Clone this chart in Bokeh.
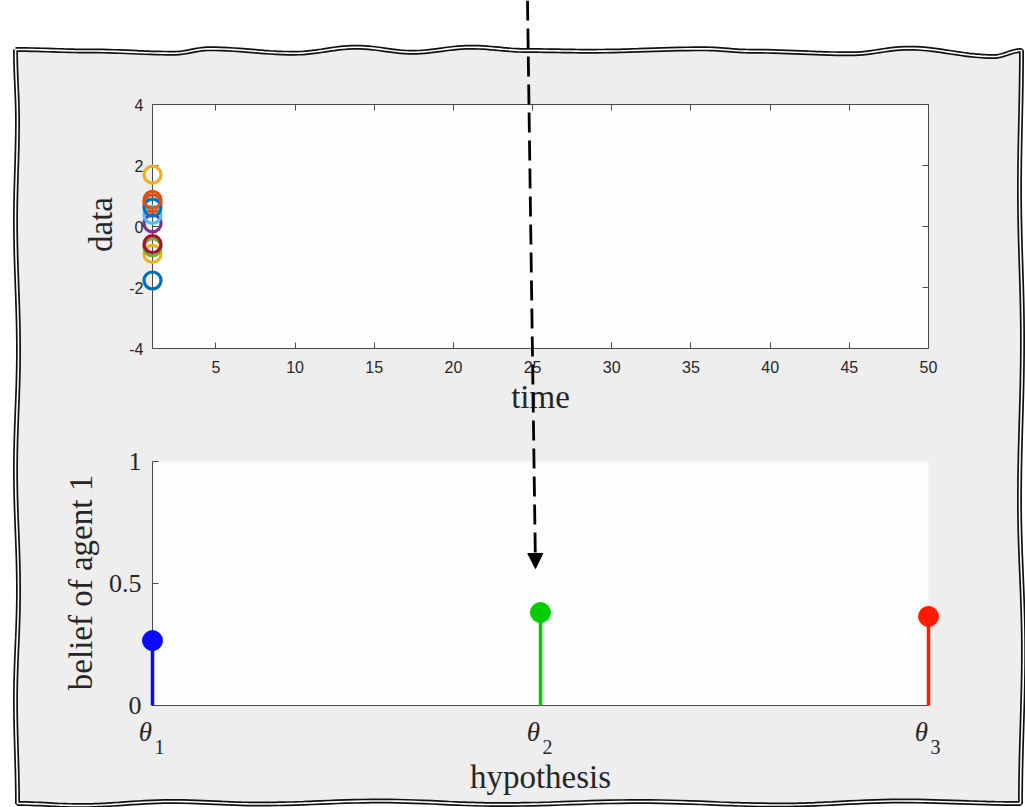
import math
from bokeh.plotting import figure
from bokeh.models import Range1d, LinearAxis, FixedTicker, Arrow, NormalHead
from bokeh.core.properties import value
from bokeh.embed import file_html
from bokeh.resources import INLINE

# ---------------- data ----------------
agent_time = [1, 1, 1, 1, 1, 1, 1, 1, 1, 1]
agent_data = [-1.77, 0.76, -0.90, 0.10, -0.68, 0.38, -0.58, 0.62, 0.87, 1.70]
agent_colors = ["#0072BD", "#D95319", "#EDB120", "#7E2F8E", "#77AC30",
                "#4DBEEE", "#A2142F", "#0072BD", "#D95319", "#EDB120"]
time_ticks = [5, 10, 15, 20, 25, 30, 35, 40, 45, 50]
time_tick_labels = ["5", "10", "15", "20", "25", "30", "35", "40", "45", "50"]
data_ticks = [-4, -2, 0, 2, 4]
data_tick_labels = ["-4", "-2", "0", "2", "4"]

hypotheses = [1, 2, 3]
hyp_symbol = ["θ", "θ", "θ"]
hyp_subscript = ["1", "2", "3"]
belief = [0.266, 0.381, 0.365]
hyp_colors = ["#0a0aff", "#00cc00", "#ff1a00"]
belief_ticks = [0, 0.5, 1]
belief_tick_labels = ["0", "0.5", "1"]

# ---------------- layout constants (pixels) ----------------
W, H = 1025, 807
FX0, FX1 = 152, 928
T1_TOP, T1_BOT = 104, 348
T2_TOP, T2_BOT = 461, 705

GRAY = "#eeeeee"
AX = "#4a4a4a"
TXT = "#262626"
SERIF = "Liberation Serif"
SANS = "Liberation Sans"


def horiz(points, n=14):
    out = []
    for (x0, y0), (x1, y1) in zip(points[:-1], points[1:]):
        for k in range(n):
            t = k / n
            s = (1 - math.cos(math.pi * t)) / 2
            out.append((x0 + (x1 - x0) * t, y0 + (y1 - y0) * s))
    return out


def vert(points, n=14):
    out = []
    for (x0, y0), (x1, y1) in zip(points[:-1], points[1:]):
        for k in range(n):
            t = k / n
            s = (1 - math.cos(math.pi * t)) / 2
            out.append((x0 + (x1 - x0) * s, y0 + (y1 - y0) * t))
    return out


top_edge = [(15, 49), (90, 50.5), (173, 52.7), (209, 48.3), (294, 52.7), (356, 46.7), (412, 51.7),
            (470, 46.7), (527, 50), (588, 50.7), (703, 48.3), (752, 50.7), (850, 53.3), (908, 47.7),
            (993, 56), (1021, 50)]
right_edge = [(1021, 50), (1019, 190), (1022, 340), (1019, 500), (1023, 650), (1020, 803)]
bottom_edge = [(1020, 803), (900, 800.5), (780, 804.5), (640, 801), (500, 804), (380, 800.5),
               (260, 803.5), (170, 801), (80, 805), (17, 803)]
left_edge = [(17, 803), (15, 700), (18, 590), (15, 470), (18, 350), (15, 220), (17, 120), (15, 49)]
border = horiz(top_edge) + vert(right_edge) + horiz(bottom_edge) + vert(left_edge)
border.append(border[0])
bx = [x for x, _ in border]
by = [y for _, y in border]

# ---------------- figure: frame = whole canvas, default ranges = pixels ----------------
p = figure(width=W, height=H, x_range=Range1d(0, W), y_range=Range1d(H, 0),
           x_axis_type=None, y_axis_type=None,
           min_border_left=0, min_border_right=0, min_border_top=0, min_border_bottom=0,
           output_backend="svg", toolbar_location=None)
p.border_fill_color = None
p.background_fill_color = None
p.outline_line_color = None

# data ranges of the two panels, mapped onto their pixel boxes
t_lo, t_hi, d_lo, d_hi = 1, 50, -4, 4
h_lo, h_hi, b_lo, b_hi = 1, 3, 0, 1
ux1 = (t_hi - t_lo) / (FX1 - FX0)
uy1 = (d_hi - d_lo) / (T1_BOT - T1_TOP)
ux2 = (h_hi - h_lo) / (FX1 - FX0)
uy2 = (b_hi - b_lo) / (T2_BOT - T2_TOP)
p.extra_x_ranges = {
    "t": Range1d(t_lo - FX0 * ux1, t_hi + (W - FX1) * ux1),
    "h": Range1d(h_lo - FX0 * ux2, h_hi + (W - FX1) * ux2),
}
p.extra_y_ranges = {
    "d": Range1d(d_lo - (H - T1_BOT) * uy1, d_hi + T1_TOP * uy1),
    "b": Range1d(b_lo - (H - T2_BOT) * uy2, b_hi + T2_TOP * uy2),
}

# background sheet with wavy double border
r = p.patch(bx, by, fill_color=GRAY, line_color=None)
r.level = "image"
r = p.line(bx, by, line_color="#111111", line_width=5)
r.level = "image"
r = p.line(bx, by, line_color="#ffffff", line_width=1.6)
r.level = "image"

# white plot areas
r = p.quad(left=[t_lo], right=[t_hi], bottom=[d_lo], top=[d_hi], fill_color="#fefefe",
           line_color=None, x_range_name="t", y_range_name="d")
r.level = "image"
r = p.quad(left=[h_lo], right=[h_hi], bottom=[b_lo], top=[b_hi], fill_color="#fefefe",
           line_color=None, x_range_name="h", y_range_name="b")
r.level = "image"


def mk_axis(ticks, bounds, xr, yr, loc):
    ax = LinearAxis(ticker=FixedTicker(ticks=ticks), bounds=bounds, x_range_name=xr,
                    y_range_name=yr, fixed_location=loc)
    ax.major_tick_in = 6
    ax.major_tick_out = 0
    ax.minor_tick_in = 0
    ax.minor_tick_out = 0
    ax.axis_line_color = AX
    ax.major_tick_line_color = AX
    ax.axis_line_width = 1
    ax.major_label_text_font_size = "0px"
    ax.major_label_text_color = None
    ax.major_label_standoff = 0
    ax.level = "underlay"
    return ax


# top panel box with inward ticks
p.add_layout(mk_axis(time_ticks, (t_lo, t_hi), "t", "d", d_lo), "below")
p.add_layout(mk_axis(time_ticks, (t_lo, t_hi), "t", "d", d_hi), "above")
p.add_layout(mk_axis(data_ticks, (d_lo, d_hi), "t", "d", t_lo), "left")
p.add_layout(mk_axis(data_ticks, (d_lo, d_hi), "t", "d", t_hi), "right")
# bottom panel axes
p.add_layout(mk_axis(hypotheses, (h_lo, h_hi), "h", "b", b_lo), "below")
p.add_layout(mk_axis(belief_ticks, (b_lo, b_hi), "h", "b", h_lo), "left")

# top panel: data
p.scatter(agent_time, agent_data, size=17, fill_color=None, line_color=agent_colors,
          line_width=3.2, x_range_name="t", y_range_name="d")

# top panel: tick labels and axis labels
p.text(x=time_ticks, y=[366] * len(time_ticks), text=time_tick_labels, x_range_name="t",
       text_font=value(SANS), text_font_size="16px", text_color=TXT,
       text_align="center", text_baseline="middle")
p.text(x=[143] * len(data_ticks), y=data_ticks, text=data_tick_labels, y_range_name="d",
       text_font=value(SANS), text_font_size="16px", text_color=TXT,
       text_align="right", text_baseline="middle")
p.text(x=[540], y=[396], text=["time"], text_font=value(SERIF), text_font_size="33px",
       text_color=TXT, text_align="center", text_baseline="middle")
p.text(x=[100], y=[224], text=["data"], angle=math.pi / 2, text_font=value(SERIF),
       text_font_size="33px", text_color=TXT, text_align="center", text_baseline="middle")

# bottom panel: stems
p.segment(x0=hypotheses, y0=[b_lo] * 3, x1=hypotheses, y1=belief, line_color=hyp_colors,
          line_width=3.5, x_range_name="h", y_range_name="b")
p.scatter(hypotheses, belief, size=20, color=hyp_colors, x_range_name="h", y_range_name="b")

# bottom panel: tick labels and axis labels
p.text(x=[141] * 3, y=belief_ticks, text=belief_tick_labels, y_range_name="b",
       text_font=value(SERIF), text_font_size="26px", text_color=TXT,
       text_align="right", text_baseline="middle")
p.text(x=hypotheses, y=[731] * 3, text=hyp_symbol, x_range_name="h", x_offset=-7,
       text_font=value(SERIF), text_font_style="italic", text_font_size="27px",
       text_color=TXT, text_align="center", text_baseline="middle")
p.text(x=hypotheses, y=[746] * 3, text=hyp_subscript, x_range_name="h", x_offset=7,
       text_font=value(SERIF), text_font_size="20px", text_color=TXT,
       text_align="center", text_baseline="middle")
p.text(x=[540], y=[776], text=["hypothesis"], text_font=value(SERIF), text_font_size="33px",
       text_color=TXT, text_align="center", text_baseline="middle")
p.text(x=[80], y=[582], text=["belief of agent 1"], angle=math.pi / 2, text_font=value(SERIF),
       text_font_size="33px", text_color=TXT, text_align="center", text_baseline="middle")

# dashed arrow across both panels
p.add_layout(Arrow(x_start=527, y_start=0, x_end=535, y_end=568,
                   start=None,
                   end=NormalHead(size=15, fill_color="black", line_color="black", line_width=1),
                   line_color="black", line_width=2.8, line_dash="20 8", level="overlay"))

open("out.html", "w").write(file_html(p, INLINE))
